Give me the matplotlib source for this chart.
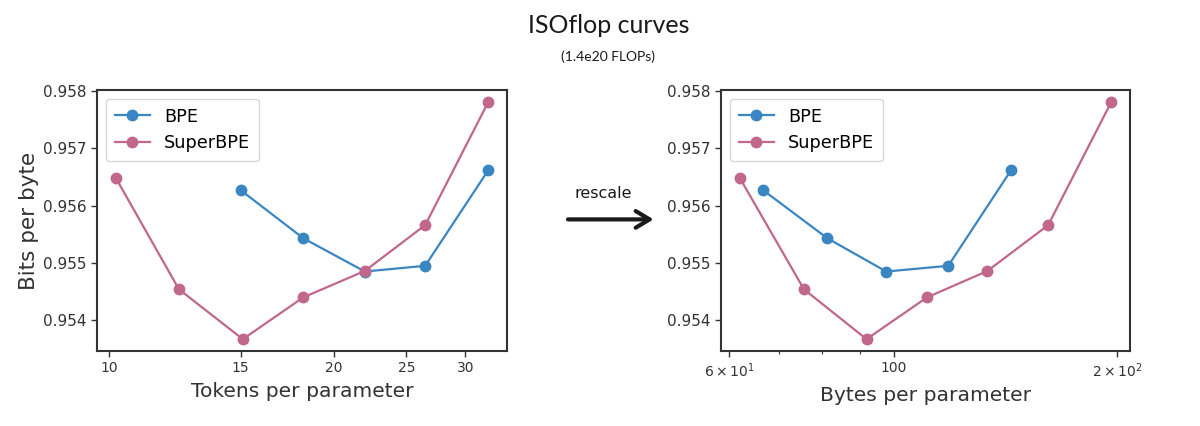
import matplotlib
matplotlib.use("Agg")
import matplotlib.pyplot as plt
from matplotlib.ticker import FixedLocator, FixedFormatter, NullFormatter

# values
bpe_tokens = [15.0, 18.2, 22.0, 26.5, 32.2]
bpe_bytes = [66.7, 81.4, 97.7, 118.4, 143.9]
bpe_bpb = [0.95627, 0.95543, 0.95485, 0.95495, 0.95662]

super_tokens = [10.2, 12.4, 15.1, 18.2, 22.0, 26.5, 32.2]
super_bytes = [62.0, 75.7, 91.9, 110.9, 133.7, 161.4, 196.3]
super_bpb = [0.95649, 0.95454, 0.95367, 0.95440, 0.95486, 0.95566, 0.95781]

token_ticks = [10, 15, 20, 25, 30]
byte_ticks = [60, 100, 200]
byte_tick_labels = [r'$6\times10^{1}$', '100', r'$2\times10^{2}$']
byte_minor = [70, 80, 90]
yticks = [0.954, 0.955, 0.956, 0.957, 0.958]

BLUE = '#3a86c2'
PINK = '#c0678b'
DARK = '#333333'

fig = plt.figure(figsize=(12, 4.26), dpi=100)
ax1 = fig.add_axes([0.0808, 0.176, 0.3417, 0.6127])
ax2 = fig.add_axes([0.6008, 0.176, 0.3408, 0.6127])


def draw(ax, bx, sx):
    ax.plot(bx, bpe_bpb, '-o', color=BLUE, lw=1.6, ms=7.5, label='BPE')
    ax.plot(sx, super_bpb, '-o', color=PINK, lw=1.6, ms=7.5, label='SuperBPE')
    ax.set_xscale('log')
    ax.set_yticks(yticks)
    ax.set_yticklabels(['%.3f' % v for v in yticks])
    for s in ax.spines.values():
        s.set_color(DARK)
        s.set_linewidth(1.5)
    ax.tick_params(axis='y', labelsize=11, colors=DARK, length=4, width=1)
    ax.tick_params(axis='x', labelsize=10, colors=DARK, length=4, width=1)
    ax.tick_params(axis='x', which='minor', length=2.5, width=0.8, colors=DARK)
    leg = ax.legend(loc='upper left', fontsize=12.7, frameon=True, fancybox=True,
                    borderpad=0.5, labelspacing=0.5)
    leg.get_frame().set_edgecolor('#cccccc')


draw(ax1, bpe_tokens, super_tokens)
ax1.xaxis.set_major_locator(FixedLocator(token_ticks))
ax1.xaxis.set_major_formatter(FixedFormatter([str(t) for t in token_ticks]))
ax1.xaxis.set_minor_locator(FixedLocator([]))
ax1.xaxis.set_minor_formatter(NullFormatter())
ax1.set_xlabel('Tokens per parameter', fontsize=14.6, color=DARK, labelpad=5)
ax1.set_ylabel('Bits per byte', fontsize=15.5, color=DARK, labelpad=3)

draw(ax2, bpe_bytes, super_bytes)
ax2.xaxis.set_major_locator(FixedLocator(byte_ticks))
ax2.xaxis.set_major_formatter(FixedFormatter(byte_tick_labels))
ax2.xaxis.set_minor_locator(FixedLocator(byte_minor))
ax2.xaxis.set_minor_formatter(NullFormatter())
ax2.set_xlabel('Bytes per parameter', fontsize=14.6, color=DARK, labelpad=4)

fig.text(0.507, 0.94, 'ISOflop curves', ha='center', va='center',
         fontsize=18, family='Lato', color='#1a1a1a')
fig.text(0.507, 0.866, '(1.4e20 FLOPs)', ha='center', va='center',
         fontsize=10, family='Lato', color='#1a1a1a')

fig.text(0.503, 0.545, 'rescale', ha='center', va='center',
         fontsize=11.5, family='DejaVu Sans', color='#1a1a1a')
fig.patches.append(matplotlib.patches.FancyArrowPatch(
    (0.471, 0.485), (0.547, 0.485), transform=fig.transFigure,
    arrowstyle='->,head_length=10,head_width=6', lw=3, color='#1a1a1a',
    mutation_scale=1))

fig.savefig('out.png', dpi=100)
